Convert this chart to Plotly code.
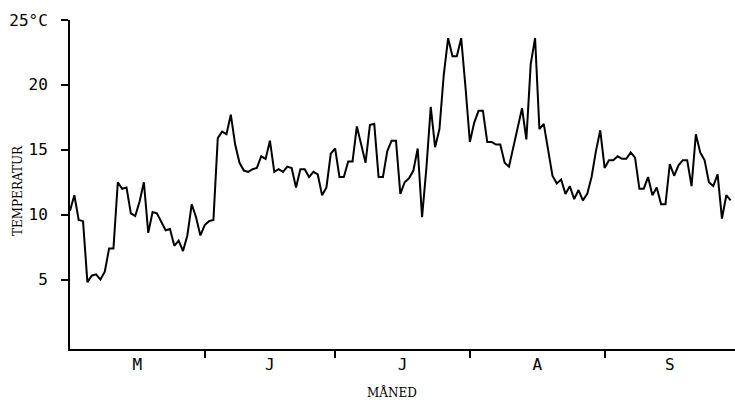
import plotly.graph_objects as go

# Daily mean temperature, 1 May .. 30 Sep (day index 0..152)
temperature = [
    10.3, 11.5, 9.6, 9.5, 4.8, 5.3, 5.4, 5.0, 5.6, 7.4,
    7.4, 12.5, 12.0, 12.1, 10.1, 9.9, 11.0, 12.5, 8.6, 10.2,
    10.1, 9.4, 8.8, 8.9, 7.6, 8.0, 7.2, 8.4, 10.8, 9.8,
    8.4, 9.2, 9.5, 9.6, 15.9, 16.4, 16.2, 17.7, 15.4, 14.0,
    13.4, 13.3, 13.5, 13.6, 14.5, 14.3, 15.7, 13.3, 13.5, 13.3,
    13.7, 13.6, 12.1, 13.5, 13.5, 12.9, 13.3, 13.1, 11.5, 12.1,
    14.7, 15.1, 12.9, 12.9, 14.1, 14.1, 16.8, 15.4, 14.0, 16.9,
    17.0, 12.9, 12.9, 14.9, 15.7, 15.7, 11.6, 12.5, 12.8, 13.4,
    15.1, 9.8, 13.6, 18.3, 15.2, 16.6, 20.8, 23.6, 22.2, 22.2,
    23.6, 19.8, 15.6, 17.1, 18.0, 18.0, 15.6, 15.6, 15.4, 15.4,
    14.0, 13.7, 15.2, 16.7, 18.2, 15.8, 21.6, 23.6, 16.6, 17.0,
    15.1, 13.0, 12.4, 12.7, 11.6, 12.2, 11.2, 11.9, 11.1, 11.6,
    12.9, 14.9, 16.5, 13.6, 14.2, 14.2, 14.5, 14.3, 14.3, 14.8,
    14.4, 12.0, 12.0, 12.9, 11.5, 12.1, 10.8, 10.8, 13.9, 13.0,
    13.8, 14.2, 14.2, 12.2, 16.2, 14.8, 14.2, 12.5, 12.2, 13.1,
    9.7, 11.5, 11.1,
]
days = list(range(len(temperature)))

month_labels = ["M", "J", "J", "A", "S"]
month_lengths = [31, 30, 31, 31, 30]
month_starts = [sum(month_lengths[:i]) for i in range(len(month_lengths))]
month_mids = [s + n / 2 for s, n in zip(month_starts, month_lengths)]
month_bounds = month_starts[1:]

y_ticks = [5, 10, 15, 20, 25]
y_ticktext = ["5", "10", "15", "20", "25°C"]

tick_font = dict(family="DejaVu Sans Mono", size=16, color="black")
title_font = dict(family="DejaVu Serif", size=12, color="black")

fig = go.Figure(go.Scatter(
    x=days, y=temperature, mode="lines",
    line=dict(color="black", width=2),
    hoverinfo="skip",
))

fig.update_layout(
    width=735, height=403,
    margin=dict(l=70, r=0, t=20, b=54),
    paper_bgcolor="white", plot_bgcolor="white",
    showlegend=False,
    xaxis=dict(
        range=[0, 153],
        showgrid=False, zeroline=False,
        showline=True, linecolor="black", linewidth=2,
        tickmode="array", tickvals=month_mids, ticktext=month_labels,
        ticks="", tickfont=tick_font,
        minor=dict(tickmode="array", tickvals=month_bounds,
                   ticks="outside", ticklen=7, tickwidth=2, tickcolor="black"),
    ),
    yaxis=dict(
        range=[-0.35, 25],
        showgrid=False, zeroline=False,
        showline=True, linecolor="black", linewidth=2,
        tickmode="array", tickvals=y_ticks, ticktext=y_ticktext,
        ticks="outside", ticklen=7, tickwidth=2, tickcolor="black",
        tickfont=tick_font, ticklabelstandoff=10,
    ),
    annotations=[
        dict(text="MÅNED", xref="paper", yref="paper",
             x=(392 - 70) / 665, y=(349 - 392) / 329,
             xanchor="center", yanchor="middle", showarrow=False,
             font=title_font),
        dict(text="TEMPERATUR", xref="paper", yref="paper",
             x=(18 - 70) / 665, y=(349 - 191) / 329,
             xanchor="center", yanchor="middle", showarrow=False,
             textangle=-90, font=title_font),
    ],
)

fig.write_html("out.html")
